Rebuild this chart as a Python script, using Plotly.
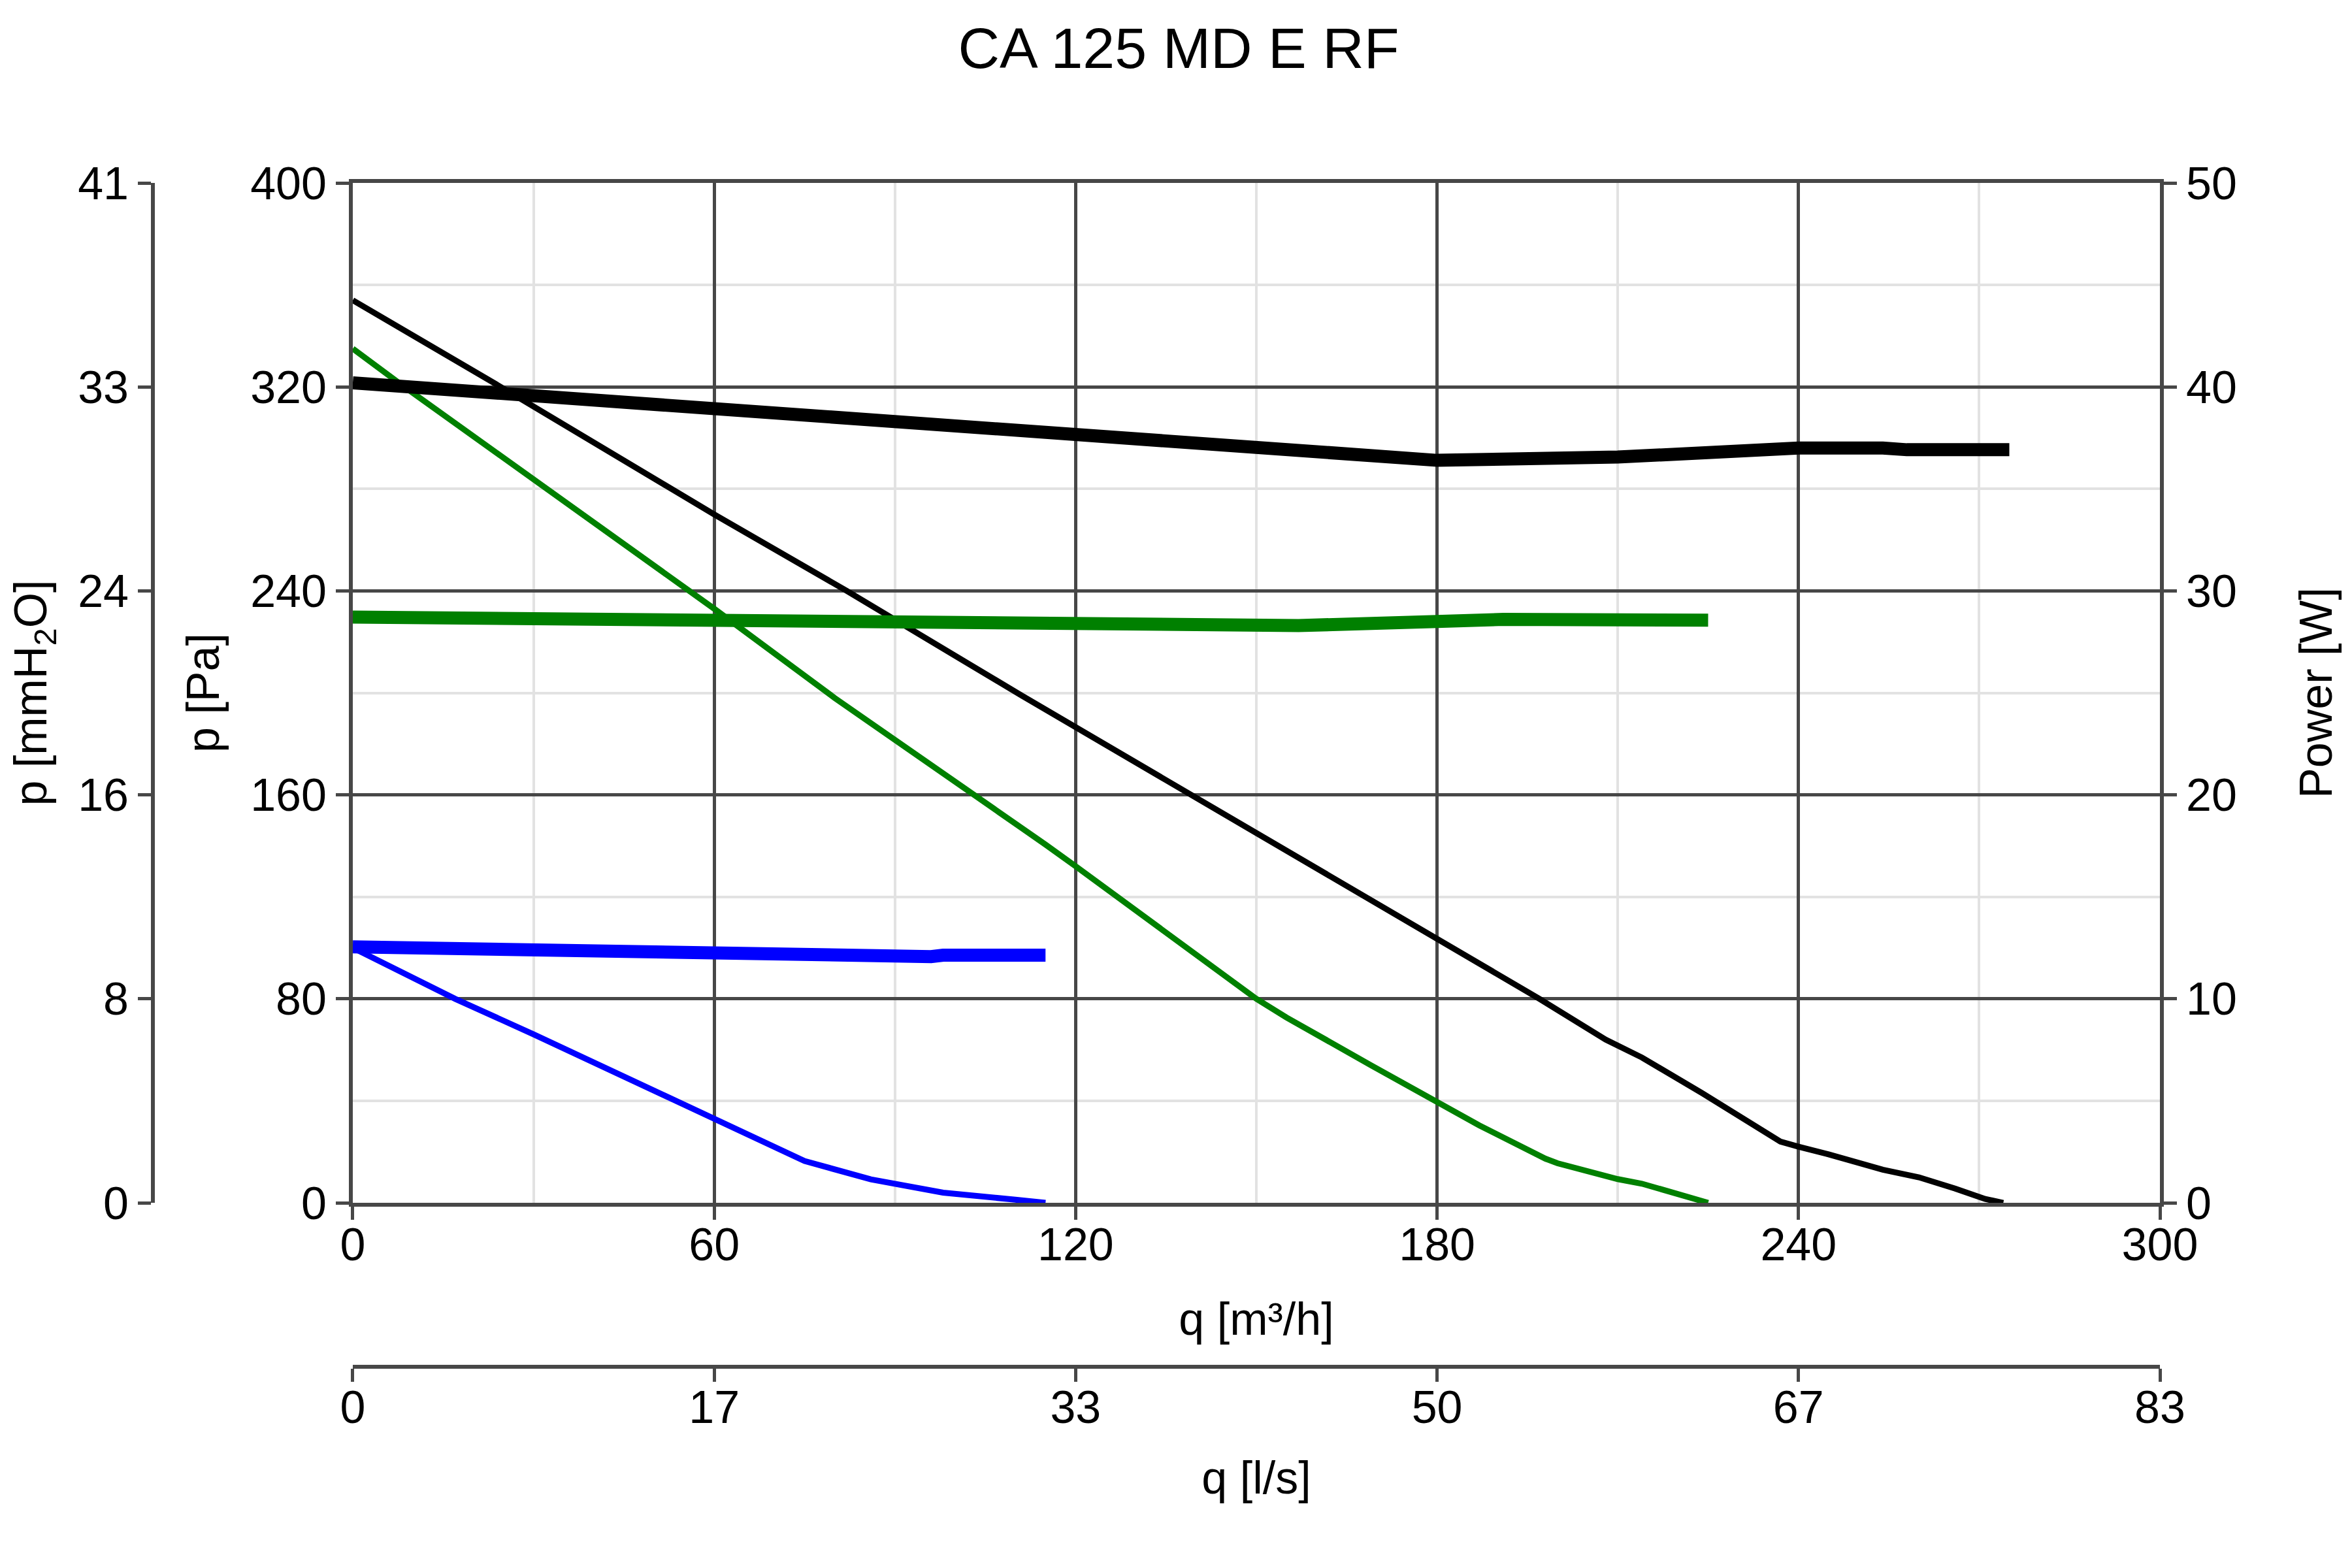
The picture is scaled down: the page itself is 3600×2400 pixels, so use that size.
"""Fan curve chart for CA 125 MD E RF: pressure and power vs air flow."""

import plotly.graph_objects as go

# Axis tick values / labels
Q_TICKS = [0, 60, 120, 180, 240, 300]  # m3/h
LS_LABELS = ["0", "17", "33", "50", "67", "83"]  # l/s at the same positions
PA_TICKS = [0, 80, 160, 240, 320, 400]
MMH2O_LABELS = ["0", "8", "16", "24", "33", "41"]  # mmH2O at the same positions
POWER_TICKS = [0, 10, 20, 30, 40, 50]

# Black speed: pressure [Pa] and power [W]
black_q = [0, 26, 60, 82, 111, 120, 139, 160, 180, 197, 208, 214, 224, 237, 240, 245, 254, 260, 266, 271, 274]
black_p = [354, 318, 270, 240, 199, 186.5, 160, 131, 103, 80, 64, 57, 43, 24, 22, 19, 13, 10, 5.6, 1.5, 0]
black_pw_q = [0, 28, 60, 90, 120, 148, 180, 210, 225, 240, 254, 258, 275]
black_pw = [40.2, 39.6, 38.85, 38.2, 37.55, 36.95, 36.4, 36.56, 36.8, 37.0, 37.0, 36.92, 36.92]

# Green speed
green_q = [0, 8, 60, 80, 115, 120, 150, 155, 169, 180, 187, 198, 200, 210, 214, 225]
green_p = [335, 321, 233, 198, 140.5, 132, 80, 72.7, 54, 39.7, 30.4, 17.3, 15.5, 9.3, 7.5, 0]
green_pw_q = [0, 60, 120, 150, 157, 180, 191, 225]
green_pw = [28.72, 28.56, 28.4, 28.36, 28.3, 28.5, 28.6, 28.56]

# Blue speed
blue_q = [0, 17, 30, 60, 73, 75, 86, 98, 110, 115]
blue_p = [100, 80, 66.1, 33.1, 18.6, 16.4, 9.2, 4.0, 1.2, 0]
blue_pw_q = [0, 30, 55, 62.5, 77, 96, 98, 115]
blue_pw = [12.55, 12.39, 12.23, 12.12, 12.07, 12.07, 12.14, 12.14]

_BLACK = "#000000"
_GREEN = "#008000"
_BLUE = "#0000ff"
_AXIS = "#474747"
_MINOR = "#e2e2e2"
_FONT = "Liberation Sans, Arial, sans-serif"

THIN = 9
THICK = 20

fig = go.Figure()

for q, p, colour in [(black_q, black_p, _BLACK), (green_q, green_p, _GREEN), (blue_q, blue_p, _BLUE)]:
    fig.add_trace(go.Scatter(x=q, y=p, mode="lines", line=dict(color=colour, width=THIN),
                             xaxis="x", yaxis="y", showlegend=False))

for q, w, colour in [(black_pw_q, black_pw, _BLACK), (green_pw_q, green_pw, _GREEN), (blue_pw_q, blue_pw, _BLUE)]:
    fig.add_trace(go.Scatter(x=q, y=w, mode="lines", line=dict(color=colour, width=THICK),
                             xaxis="x", yaxis="y2", showlegend=False))

# empty trace so the secondary unit axes (l/s, mmH2O) get drawn
fig.add_trace(go.Scatter(x=[], y=[], xaxis="x2", yaxis="y3", showlegend=False, hoverinfo="skip"))

tickfont = dict(family=_FONT, size=70, color="black")
titlefont = dict(family=_FONT, size=70, color="black")
common = dict(
    showline=True, linecolor=_AXIS, linewidth=6,
    ticks="outside", ticklen=20, tickwidth=5, tickcolor=_AXIS,
    tickfont=tickfont, zeroline=False,
)

# page body adds an 8px offset, so the figure is 8px smaller than the window
fig.update_layout(
    width=3592,
    height=2392,
    paper_bgcolor="white",
    plot_bgcolor="white",
    showlegend=False,
    margin=dict(l=226, r=294, t=272, b=308),
    title=dict(
        text="CA 125 MD E RF",
        font=dict(family=_FONT, size=88, color="black"),
        x=0.5, xref="container", xanchor="center",
        y=1 - 65 / 2392, yref="container", yanchor="middle",
    ),
    xaxis=dict(
        **common,
        domain=[0.0996, 1],
        range=[0, 300],
        tickvals=Q_TICKS,
        anchor="y",
        mirror=True,
        ticklabelstandoff=-22,
        showgrid=True, gridcolor=_AXIS, gridwidth=5,
        minor=dict(dtick=30, showgrid=True, gridcolor=_MINOR, gridwidth=4, ticks=""),
        title=dict(text="q [m³/h]", font=titlefont, standoff=53),
    ),
    xaxis2=dict(
        **common,
        overlaying="x",
        anchor="free",
        position=0,
        side="bottom",
        range=[0, 300],
        tickvals=Q_TICKS,
        ticktext=LS_LABELS,
        ticklabelstandoff=-21,
        showgrid=False,
        title=dict(text="q [l/s]", font=titlefont, standoff=44),
    ),
    yaxis=dict(
        **common,
        domain=[0.1385, 1],
        range=[0, 400],
        tickvals=PA_TICKS,
        anchor="x",
        mirror=True,
        showgrid=True, gridcolor=_AXIS, gridwidth=5,
        minor=dict(dtick=40, showgrid=True, gridcolor=_MINOR, gridwidth=4, ticks=""),
        title=dict(text="p [Pa]", font=titlefont, standoff=27),
    ),
    yaxis2=dict(
        **common,
        overlaying="y",
        anchor="x",
        side="right",
        range=[0, 50],
        tickvals=POWER_TICKS,
        showgrid=False,
        title=dict(text="Power [W]", font=titlefont, standoff=99),
    ),
    yaxis3=dict(
        **common,
        overlaying="y",
        anchor="free",
        position=0,
        side="left",
        range=[0, 400],
        tickvals=PA_TICKS,
        ticktext=MMH2O_LABELS,
        showgrid=False,
        title=dict(text="p [mmH<sub>2</sub>O]", font=titlefont, standoff=38),
    ),
)

fig.write_html("out.html")
